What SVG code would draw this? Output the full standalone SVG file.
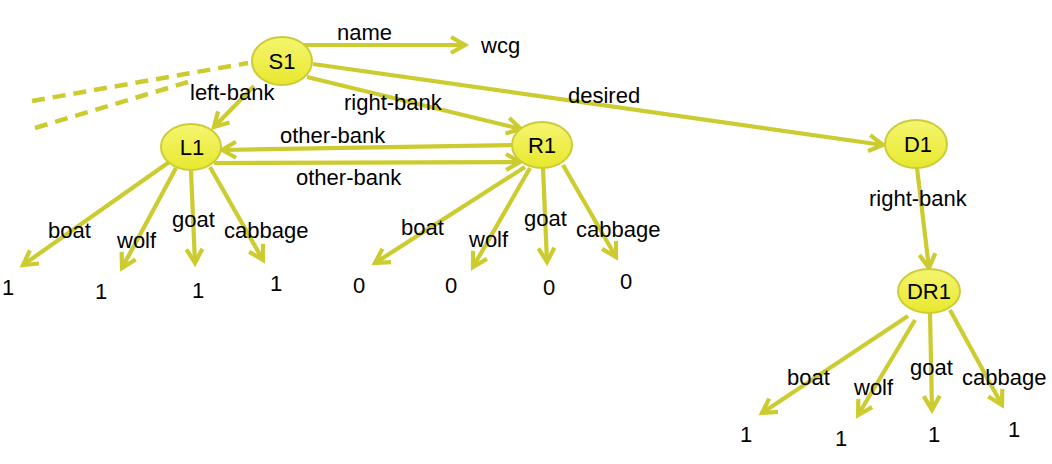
<svg xmlns="http://www.w3.org/2000/svg" width="1052" height="464" viewBox="0 0 1052 464">
<style>
.e{fill:none;stroke:#cccc30;stroke-width:4.2;marker-end:url(#ah)}
.d{fill:none;stroke:#cccc30;stroke-width:4.5;stroke-dasharray:13 8}
.n{fill:url(#ng);stroke:#cccc38;stroke-width:2}
.t{font-family:"Liberation Sans",Arial,sans-serif;font-size:22px;fill:#000}
.nt{font-family:"Liberation Sans",Arial,sans-serif;font-size:22px;fill:#000;text-anchor:middle}
</style>
<defs>
<linearGradient id="ng" x1="0" y1="0" x2="0" y2="1">
<stop offset="0" stop-color="#f5f570"/>
<stop offset="1" stop-color="#e8e82e"/>
</linearGradient>
<marker id="ah" markerUnits="userSpaceOnUse" markerWidth="24" markerHeight="24" refX="20" refY="12" orient="auto" overflow="visible">
<path d="M6,4 L20,12 L6,20" fill="none" stroke="#cccc30" stroke-width="4.2" stroke-linejoin="miter"/>
</marker>
</defs>
<rect width="1052" height="464" fill="#fff"/>
<g id="connectors">
<path class="d" d="M32,101 L248,63"/>
<path class="d" d="M35,128 L188,82"/>
<path class="e" d="M304,45 L465,45"/>
<path class="e" d="M254,86 L214,127"/>
<path class="e" d="M307,77 L521,129"/>
<path class="e" d="M313,64 L883,145"/>
<path class="e" d="M513,145 L222,150"/>
<path class="e" d="M214,163 L520,162"/>
<path class="e" d="M917,168 L929,268"/>
<path class="e" d="M172,160 L23,265"/>
<path class="e" d="M176,168 L122,268"/>
<path class="e" d="M191,171 L195,263"/>
<path class="e" d="M210,167 L263,260"/>
<path class="e" d="M525,167 L375,263"/>
<path class="e" d="M530,168 L473,267"/>
<path class="e" d="M543,168 L547,262"/>
<path class="e" d="M563,165 L616,257"/>
<path class="e" d="M908,316 L762,413"/>
<path class="e" d="M915,320 L858,415"/>
<path class="e" d="M930,313 L932,410"/>
<path class="e" d="M950,310 L1002,405"/>
</g>
<g id="labels">
<text class="t" x="337" y="40">name</text>
<text class="t" x="481" y="53">wcg</text>
<text class="t" x="190" y="100">left-bank</text>
<text class="t" x="344" y="110">right-bank</text>
<text class="t" x="568" y="103">desired</text>
<text class="t" x="280" y="143">other-bank</text>
<text class="t" x="296" y="185">other-bank</text>
<text class="t" x="869" y="206">right-bank</text>
<text class="t" x="48" y="238">boat</text>
<text class="t" x="117" y="248">wolf</text>
<text class="t" x="172" y="227">goat</text>
<text class="t" x="224" y="238">cabbage</text>
<text class="t" x="2" y="295">1</text>
<text class="t" x="95" y="299">1</text>
<text class="t" x="192" y="298">1</text>
<text class="t" x="270" y="291">1</text>
<text class="t" x="401" y="235">boat</text>
<text class="t" x="469" y="247">wolf</text>
<text class="t" x="524" y="226">goat</text>
<text class="t" x="576" y="237">cabbage</text>
<text class="t" x="353" y="293">0</text>
<text class="t" x="445" y="293">0</text>
<text class="t" x="543" y="295">0</text>
<text class="t" x="620" y="289">0</text>
<text class="t" x="787" y="385">boat</text>
<text class="t" x="854" y="395">wolf</text>
<text class="t" x="910" y="375">goat</text>
<text class="t" x="962" y="385">cabbage</text>
<text class="t" x="740" y="442">1</text>
<text class="t" x="835" y="446">1</text>
<text class="t" x="928" y="442">1</text>
<text class="t" x="1008" y="437">1</text>
</g>
<g id="S1"><ellipse class="n" cx="282" cy="61" rx="30" ry="24"/><text class="nt" x="282" y="69">S1</text></g>
<g id="L1"><ellipse class="n" cx="191" cy="147" rx="30" ry="23"/><text class="nt" x="192" y="155">L1</text></g>
<g id="R1"><ellipse class="n" cx="542" cy="145" rx="30" ry="23"/><text class="nt" x="542" y="153">R1</text></g>
<g id="D1"><ellipse class="n" cx="916" cy="144" rx="31" ry="24"/><text class="nt" x="918" y="152">D1</text></g>
<g id="DR1"><ellipse class="n" cx="929" cy="291" rx="31" ry="22"/><text class="nt" x="929" y="299">DR1</text></g>
</svg>
